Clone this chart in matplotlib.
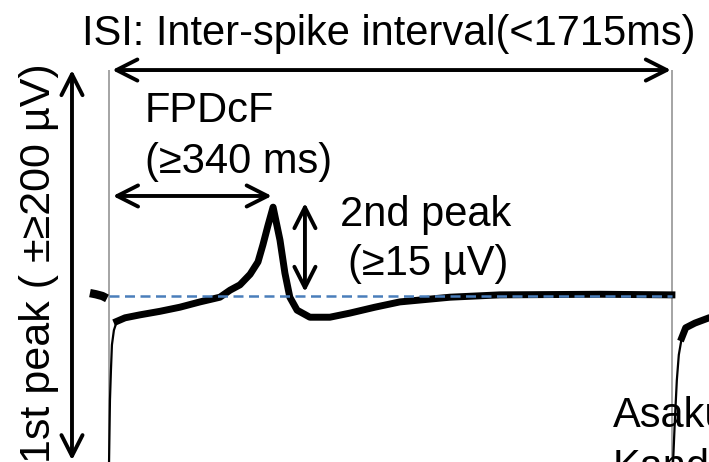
import numpy as np
import matplotlib
matplotlib.use('Agg')
import matplotlib.pyplot as plt

plt.rcParams['font.family'] = ['Liberation Sans', 'DejaVu Sans']

# field potential trace, time in ms, voltage in uV (baseline = 0)
spike_times = [0, 1715]
isi_ms = 1715
fpdcf_end = 496
second_peak_t = 597

pre_t = [-58, -40, -20, -6]
pre_v = [0.5, 0.3, 0.0, -0.4]

rec_t = [0, 3, 6, 9, 15, 24]
rec_v = [-29.0, -17.7, -12.6, -8.3, -5.8, -4.3]

main_t = [24, 49, 94, 155, 216, 277, 338, 369, 399, 430, 454, 469, 484, 500,
          521, 536, 551, 573, 612, 673, 734, 810, 886, 1039, 1191, 1496, 1715]
main_v = [-4.3, -3.7, -3.2, -2.6, -1.9, -1.0, -0.2, 1.0, 1.9, 3.7, 5.8, 8.7,
          11.9, 15.1, 9.5, 3.9, -0.2, -2.4, -3.6, -3.6, -2.9, -1.9, -1.0,
          -0.2, 0.2, 0.3, 0.2]

rec2_t = [1718, 1724, 1730, 1736, 1745, 1757]
rec2_v = [-29.0, -21.1, -14.3, -10.0, -7.1, -5.4]

post_t = [1745, 1757, 1785, 1828, 1861]
post_v = [-7.1, -5.4, -4.6, -3.7, -3.4]

fig = plt.figure(figsize=(7.09, 4.62), dpi=100)
ax = fig.add_axes([0, 0, 1, 1])
ax.set_xlim(-332, 1828)
ax.set_ylim(-28.2, 50.3)
ax.axis('off')

# spikes as thin grey lines
ax.vlines(spike_times, -30, 38.4, color='#8c8c8c', lw=1.1)

# trace
ax.plot(pre_t, pre_v, color='black', lw=6, solid_capstyle='butt')
ax.plot(rec_t, rec_v, color='black', lw=1.6)
ax.plot(main_t, main_v, color='black', lw=5, solid_joinstyle='round')
ax.plot(rec2_t, rec2_v, color='black', lw=1.6)
ax.plot(post_t, post_v, color='black', lw=5)

# baseline
ax.plot([0, isi_ms], [0, 0], color='#4a7ebb', lw=1.8, dashes=(4, 2.2))

arrow = dict(arrowstyle='<->,head_length=0.75,head_width=0.38', lw=2.8,
             color='black', shrinkA=0, shrinkB=0, mutation_scale=20)
ax.annotate('', xy=(10, 38.4), xytext=(1712, 38.4), arrowprops=arrow)
ax.annotate('', xy=(-112.7, 38.4), xytext=(-112.7, -27.9), arrowprops=arrow)
ax.annotate('', xy=(12, 17.0), xytext=(fpdcf_end, 17.0), arrowprops=arrow)
ax.annotate('', xy=(second_peak_t, 15.8), xytext=(second_peak_t, 0.7), arrowprops=arrow)

fs = 30
ax.text(851, 42.7, 'ISI: Inter-spike interval(<1715ms)', fontsize=fs,
        ha='center', va='baseline')
ax.text(110, 29.6, 'FPDcF', fontsize=fs, ha='left', va='baseline')
ax.text(110, 20.9, '(≥340 ms)', fontsize=fs, ha='left', va='baseline')
ax.text(704, 11.9, '2nd peak', fontsize=fs, ha='left', va='baseline')
ax.text(728, 3.6, '(≥15 µV)', fontsize=fs, ha='left', va='baseline')
ax.text(-180, 39.6, '1st peak ( ±≥200 µV)', fontsize=31, rotation=90,
        rotation_mode='anchor', ha='right', va='baseline')
ax.text(1535, -22.3, 'Asakura', fontsize=fs, ha='left', va='baseline')
ax.text(1535, -31.1, 'Kanda', fontsize=fs, ha='left', va='baseline')

fig.savefig('out.png', dpi=100)
